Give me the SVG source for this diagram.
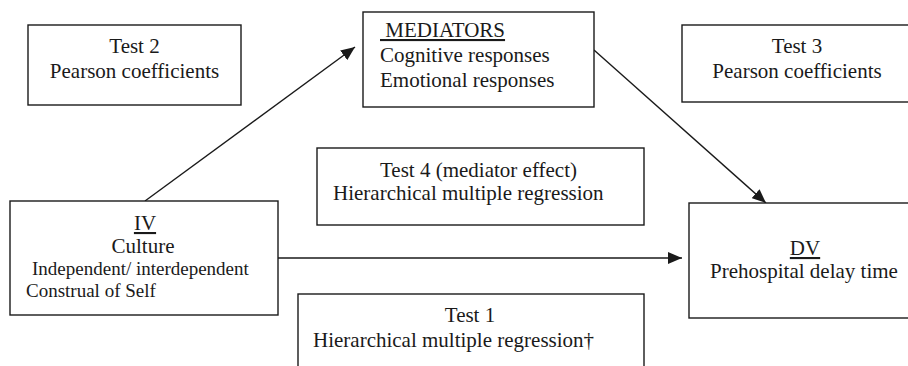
<svg xmlns="http://www.w3.org/2000/svg" width="908" height="366" viewBox="0 0 908 366">
<style>
.box{fill:#fff;stroke:#1a1a1a;stroke-width:1.4}
.t{font-family:"Liberation Serif","Times New Roman",serif;font-size:21px;fill:#1a1a1a}
.s{font-size:19px}
.c{text-anchor:middle}
.u{text-decoration:underline}
.conn{stroke:#1a1a1a;stroke-width:1.4;fill:none;marker-end:url(#ah)}
</style>
<defs>
<marker id="ah" viewBox="0 0 14 12" refX="14" refY="6" markerWidth="14" markerHeight="12" markerUnits="userSpaceOnUse" orient="auto">
<path d="M0,0 L14,6 L0,12 Z" fill="#1a1a1a"/>
</marker>
</defs>
<rect width="908" height="366" fill="#fff"/>
<g id="connectors">
<line class="conn" x1="145" y1="201" x2="355" y2="47"/>
<line class="conn" x1="594" y1="50" x2="766" y2="203"/>
<line class="conn" x1="278" y1="258" x2="682" y2="258"/>
</g>
<g id="test2">
<rect class="box" x="28" y="25" width="213" height="80"/>
<text class="t c" x="134.5" y="53">Test 2</text>
<text class="t c" x="134.5" y="78">Pearson coefficients</text>
</g>
<g id="mediators">
<rect class="box" x="363" y="12" width="231" height="95"/>
<text class="t u" x="380" y="37" xml:space="preserve"> MEDIATORS</text>
<text class="t" x="380" y="62">Cognitive responses</text>
<text class="t" x="380" y="87">Emotional responses</text>
</g>
<g id="test3">
<rect class="box" x="682" y="25" width="230" height="77"/>
<text class="t c" x="797" y="53">Test 3</text>
<text class="t c" x="797" y="78">Pearson coefficients</text>
</g>
<g id="test4">
<rect class="box" x="317" y="148" width="327" height="77"/>
<text class="t" x="380" y="177">Test 4 (mediator effect)</text>
<text class="t" x="333" y="200">Hierarchical multiple regression</text>
</g>
<g id="iv">
<rect class="box" x="10" y="201" width="268" height="114"/>
<text class="t c u" x="145" y="230">IV</text>
<text class="t c" x="143" y="253">Culture</text>
<text class="t s" x="32" y="275">Independent/ interdependent</text>
<text class="t s" x="26" y="297">Construal of Self</text>
</g>
<g id="dv">
<rect class="box" x="689" y="203" width="225" height="115"/>
<text class="t c u" x="805" y="255">DV</text>
<text class="t c" x="804" y="278">Prehospital delay time</text>
</g>
<g id="test1">
<rect class="box" x="298" y="294" width="346" height="90"/>
<text class="t c" x="470" y="322">Test 1</text>
<text class="t" x="313" y="347">Hierarchical multiple regression†</text>
</g>
</svg>
